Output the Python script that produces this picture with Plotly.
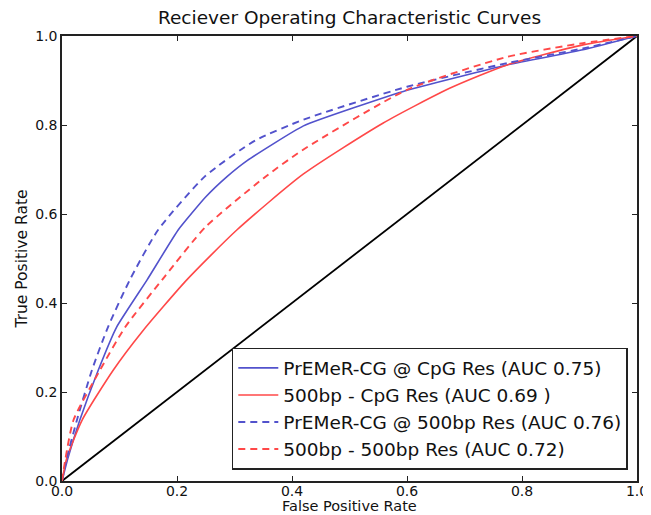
import plotly.graph_objects as go

# ROC curves
bs_fpr = [0, 0.01, 0.031, 0.063, 0.095, 0.148, 0.202, 0.249, 0.287, 0.322, 0.42, 0.6, 0.774, 0.906, 1.0]
bs_tpr = [0, 0.05, 0.137, 0.249, 0.346, 0.452, 0.564, 0.637, 0.684, 0.72, 0.798, 0.878, 0.935, 0.969, 1.0]

rs_fpr = [0, 0.008, 0.035, 0.089, 0.139, 0.217, 0.304, 0.42, 0.558, 0.675, 0.774, 0.906, 1.0]
rs_tpr = [0, 0.05, 0.137, 0.249, 0.335, 0.452, 0.564, 0.69, 0.804, 0.883, 0.935, 0.98, 1.0]

bd_fpr = [0, 0.008, 0.026, 0.052, 0.08, 0.118, 0.167, 0.249, 0.336, 0.42, 0.6, 0.774, 0.906, 1.0]
bd_tpr = [0, 0.05, 0.137, 0.249, 0.346, 0.452, 0.564, 0.685, 0.765, 0.812, 0.886, 0.939, 0.972, 1.0]

rd_fpr = [0, 0.006, 0.02, 0.066, 0.11, 0.179, 0.249, 0.35, 0.42, 0.6, 0.774, 0.906, 1.0]
rd_tpr = [0, 0.05, 0.137, 0.249, 0.346, 0.46, 0.57, 0.68, 0.745, 0.879, 0.953, 0.984, 1.0]

diag = [0, 1]

names = [
    "PrEMeR-CG @ CpG Res (AUC 0.75)",
    "500bp - CpG Res (AUC 0.69 )",
    "PrEMeR-CG @ 500bp Res (AUC 0.76)",
    "500bp - 500bp Res (AUC 0.72)",
]
tick_vals = [0, 0.2, 0.4, 0.6, 0.8, 1.0]
tick_text = ["0.0", "0.2", "0.4", "0.6", "0.8", "1.0"]

BLUE = "#5252cc"
RED = "#ff4848"
DASH = "7px,5px"

fig = go.Figure()
fig.add_trace(go.Scatter(x=diag, y=diag, mode="lines", line=dict(color="black", width=1.8),
                         showlegend=False, hoverinfo="skip"))
fig.add_trace(go.Scatter(x=bs_fpr, y=bs_tpr, mode="lines", name=names[0],
                         line=dict(color=BLUE, width=1.6, shape="spline", smoothing=0.4)))
fig.add_trace(go.Scatter(x=rs_fpr, y=rs_tpr, mode="lines", name=names[1],
                         line=dict(color=RED, width=1.6, shape="spline", smoothing=0.6)))
fig.add_trace(go.Scatter(x=bd_fpr, y=bd_tpr, mode="lines", name=names[2],
                         line=dict(color=BLUE, width=1.9, dash=DASH, shape="spline", smoothing=0.6)))
fig.add_trace(go.Scatter(x=rd_fpr, y=rd_tpr, mode="lines", name=names[3],
                         line=dict(color=RED, width=1.9, dash=DASH, shape="spline", smoothing=0.6)))

axis_common = dict(
    range=[0, 1], showgrid=False, zeroline=False, automargin=False,
    showline=True, linecolor="#222", linewidth=1.5, mirror="allticks",
    ticks="inside", ticklen=5, tickcolor="#222", tickwidth=1,
    tickvals=tick_vals, ticktext=tick_text,
    tickfont=dict(family="DejaVu Sans", size=14, color="#111"),
)

# the page body has an 8px default margin, so the figure is 8px smaller
W, H = 643, 507
MT, MB = 28, 34
plot_h = H - MT - MB
fig.update_layout(
    width=W, height=H,
    margin=dict(l=54, r=14, t=MT, b=MB),
    paper_bgcolor="white", plot_bgcolor="white",
    font=dict(family="DejaVu Sans", color="#111"),
    title=dict(text="Reciever Operating Characteristic Curves", x=0.5, xref="paper",
               xanchor="center", y=1 - 10 / H, yref="container", yanchor="middle",
               font=dict(family="DejaVu Sans", size=18.5, color="#111")),
    xaxis=dict(**axis_common, ticklabelstandoff=-4),
    yaxis=dict(**axis_common, title=dict(text="True Positive Rate", standoff=4,
                                         font=dict(family="DejaVu Sans", size=15.5))),
    legend=dict(x=0.984, y=0.025, xanchor="right", yanchor="bottom",
                bgcolor="white", bordercolor="#222", borderwidth=1.5,
                font=dict(family="DejaVu Sans", size=18.5, color="#111"),
                tracegroupgap=0, itemwidth=40),
    annotations=[dict(text="False Positive Rate", x=0.5, xref="paper",
                      y=-(MB - 0.5) / plot_h, yref="paper", yanchor="bottom",
                      showarrow=False, borderpad=0,
                      font=dict(family="DejaVu Sans", size=14.5, color="#111"))],
)

fig.write_html("out.html")
